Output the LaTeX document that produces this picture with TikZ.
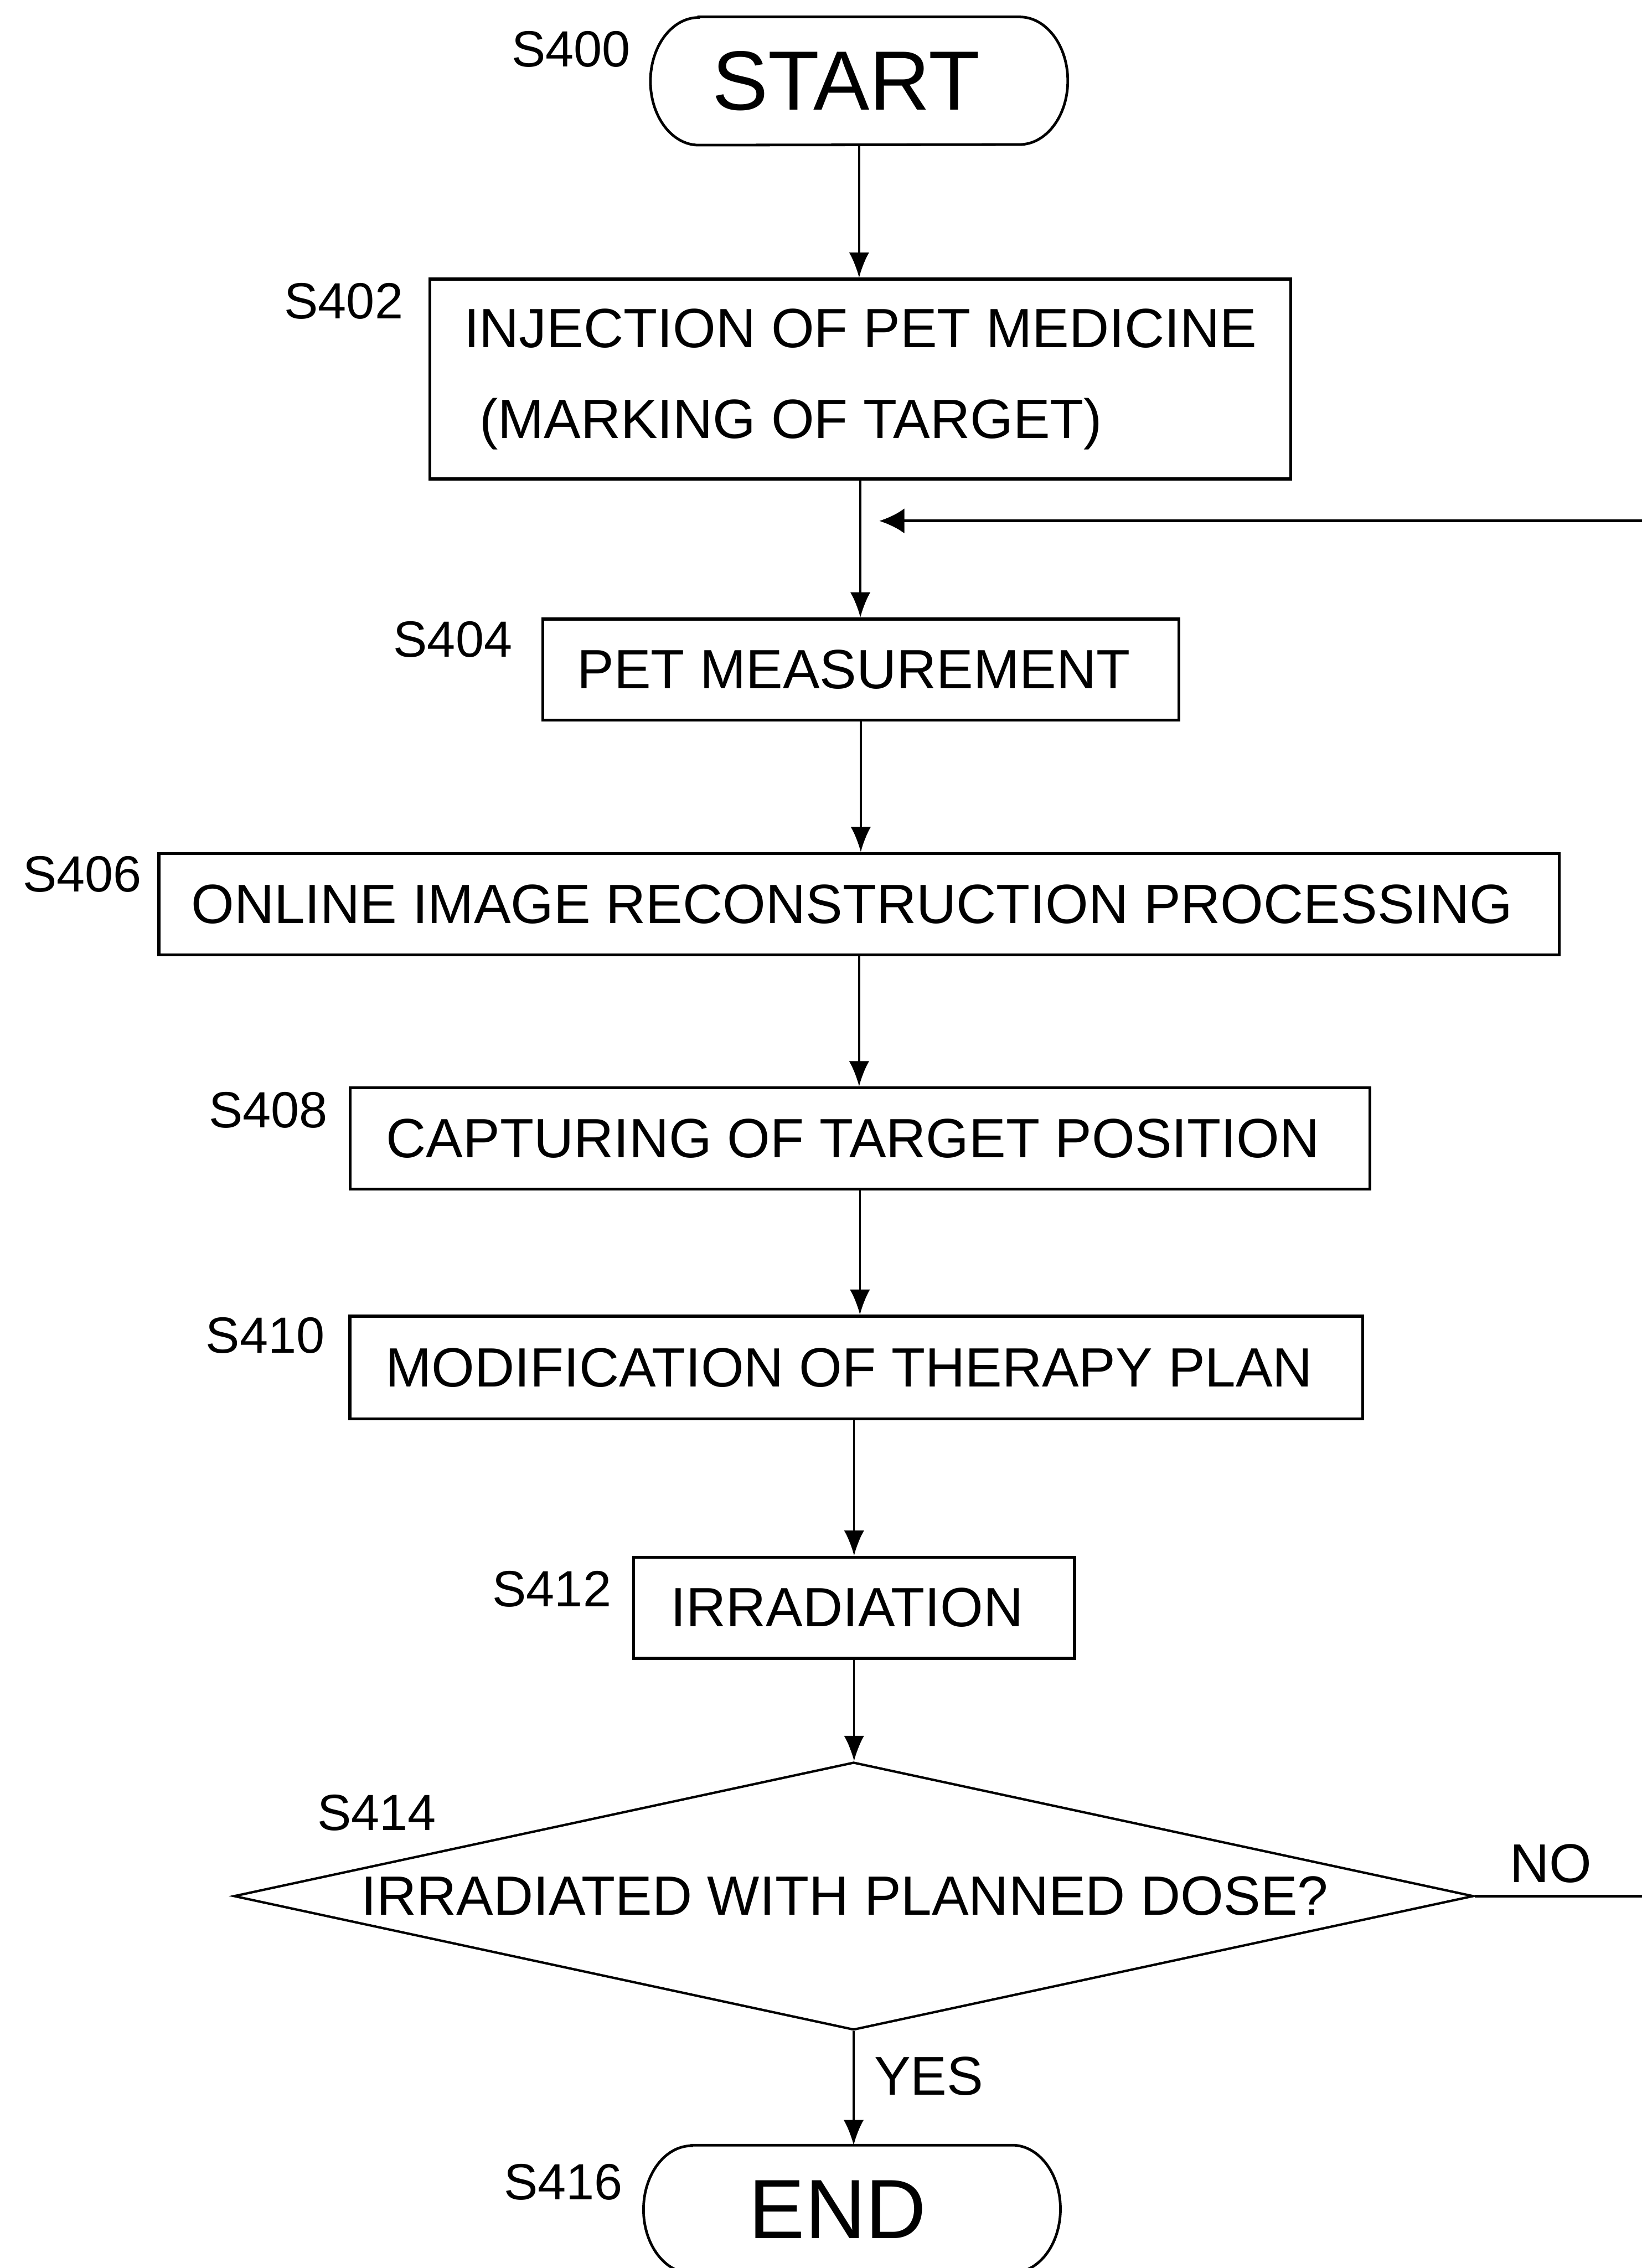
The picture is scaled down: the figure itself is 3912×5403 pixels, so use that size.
\documentclass[tikz,border=0pt]{standalone}
\usepackage{fontspec}
\setmainfont{Liberation Sans}
\usetikzlibrary{arrows.meta,shapes.geometric}

\begin{document}
\begin{tikzpicture}[x=0.1mm,y=-0.1mm,
  % trailing space keeps each label slightly left of its box centre
  padright/.style={execute at end node={\hspace*{#1}}},
  stepbox/.style={draw,line width=2pt,inner sep=0pt,minimum height=24.1mm,
    font=\fontsize{37.5}{44}\selectfont,padright=3.4mm},
  term/.style={inner sep=0pt,minimum width=99.3mm,minimum height=30.4mm,
    font=\fontsize{57}{60}\selectfont},
  termline/.style={line width=1.8pt},
  decision/.style={draw,diamond,aspect=4.63,line width=1.6pt,inner sep=0pt,
    minimum width=295.4mm,minimum height=63.8mm,font=\fontsize{37.5}{44}\selectfont,
    padright=4.2mm},
  tag/.style={inner sep=0pt,font=\fontsize{34.5}{40}\selectfont},
  answer/.style={inner sep=0pt,font=\fontsize{37}{44}\selectfont},
  flow/.style={line width=1.3pt,-{Latex[length=6mm,width=4.8mm]}},
  back/.style={line width=2pt,-{Latex[length=6mm,width=6mm]},shorten >=4.5mm},
  plain/.style={line width=1.6pt}
]
\useasboundingbox (0,0) rectangle (3912,5403);

% terminals
\node[term,padright=6.2mm] (start) at (2047,193) {START};
\draw[termline] ([xshift=11.5mm]start.north west) -- ([xshift=-11.5mm]start.north east)
  arc[start angle=90,end angle=-90,x radius=11.5mm,y radius=15.2mm]
  -- ([xshift=11.5mm]start.south west)
  arc[start angle=270,end angle=90,x radius=11.5mm,y radius=15.2mm] -- cycle;

\node[term,minimum width=99.2mm,padright=6.8mm] (end) at (2030,5263) {END};
\draw[termline] ([xshift=11.5mm]end.north west) -- ([xshift=-11.5mm]end.north east)
  arc[start angle=90,end angle=-90,x radius=11.5mm,y radius=15.2mm]
  -- ([xshift=11.5mm]end.south west)
  arc[start angle=270,end angle=90,x radius=11.5mm,y radius=15.2mm] -- cycle;

% process steps
\node[draw,line width=2pt,inner sep=0pt,minimum width=205.1mm,minimum height=47.6mm,
  align=left,font=\fontsize{37.5}{61.5}\selectfont] (s402) at (2050,903)
  {INJECTION OF PET MEDICINE\\\hspace*{0.28em}(MARKING OF TARGET)};
\node[stepbox,minimum width=151.6mm] (s404) at (2051,1595) {PET MEASUREMENT};
\node[stepbox,minimum width=333.7mm] (s406) at (2047,2154) {ONLINE IMAGE RECONSTRUCTION PROCESSING};
\node[stepbox,minimum width=243.0mm] (s408) at (2049,2712) {CAPTURING OF TARGET POSITION};
\node[stepbox,minimum width=241.3mm,minimum height=24.5mm] (s410) at (2040,3258) {MODIFICATION OF THERAPY PLAN};
\node[stepbox,minimum width=105.1mm] (s412) at (2035,3830) {IRRADIATION};
\node[decision] (s414) at (2034,4517) {IRRADIATED WITH PLANNED DOSE?};

% step numbers
\node[tag] (t400) at (1361,117) {S400};
\node[tag] (t402) at (819,717) {S402};
\node[tag] (t404) at (1079,1523) {S404};
\node[tag] (t406) at (196,2082) {S406};
\node[tag] (t408) at (639,2644) {S408};
\node[tag] (t410) at (632,3181) {S410};
\node[tag] (t412) at (1315,3785) {S412};
\node[tag] (t414) at (898,4319) {S414};
\node[tag] (t416) at (1342,5198) {S416};

% branch labels
\node[answer] (no) at (3695,4439) {NO};
\node[answer] (yes) at (2213,4946) {YES};

% loop ends at the right border
\coordinate (loopin) at (3912,1241);
\coordinate (loopout) at (3912,4517);

% connectors
\draw[flow] (start.south) -- (start.south |- s402.north);
\draw[flow] (s402.south) -- (s402.south |- s404.north);
\draw[flow] (s404.south) -- (s404.south |- s406.north);
\draw[flow] (s406.south) -- (s406.south |- s408.north);
\draw[flow] (s408.south) -- (s408.south |- s410.north);
\draw[flow] (s412.north |- s410.south) -- (s412.north);
\draw[flow] (s412.south) -- (s412.south |- s414.north);
\draw[flow] (s414.south) -- (s414.south |- end.north);
\draw[plain] (s414.east) -- (loopout);
\draw[back] (loopin) -- (loopin -| s402.south);
\end{tikzpicture}
\end{document}
